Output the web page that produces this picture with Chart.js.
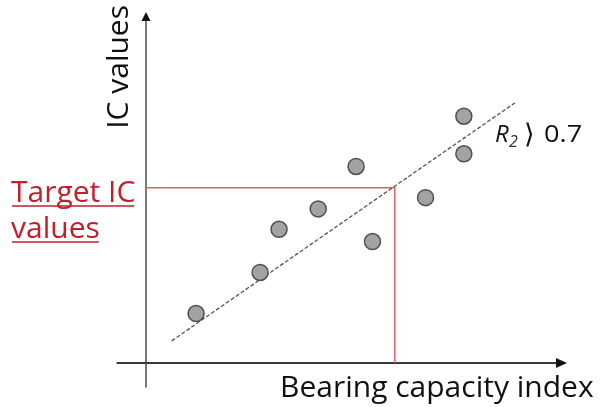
<!DOCTYPE html>
<html>
<head>
<meta charset="utf-8">
<script src="https://cdn.jsdelivr.net/npm/chart.js@4/dist/chart.umd.min.js"></script>
<style>
html,body{margin:0;padding:0;background:#fff;}
#c{display:block;}
</style>
</head>
<body>
<canvas id="c" width="609" height="407"></canvas>
<script>
// Data (arbitrary units: bearing capacity index vs IC values)
const pointX = [1.19, 2.71, 3.16, 4.09, 4.99, 5.38, 6.64, 7.55, 7.55];
const pointY = [1.41, 2.58, 3.81, 4.39, 5.60, 3.46, 4.71, 7.03, 5.96];
const trendX = [0.61, 8.76];
const trendY = [0.63, 7.41];
const targetY = 4.99;
const targetX = 5.91;
const xLabel = "Bearing capacity index";
const yLabel = "IC values";
const targetLabel = ["Target IC", "values"];
const r2Label = "0.7";

const scatterData = pointX.map((x, i) => ({x: x, y: pointY[i]}));
const trendData = trendX.map((x, i) => ({x: x, y: trendY[i]}));
const targetData = [{x: 0, y: targetY}, {x: targetX, y: targetY}, {x: targetX, y: 0}];

const FONT = '"Open Sans", "Noto Sans", sans-serif';

const decor = {
  id: 'decor',
  beforeDatasetsDraw(chart) {
    const ctx = chart.ctx;
    const xs = chart.scales.x, ys = chart.scales.y;
    const x0 = xs.getPixelForValue(0), y0 = ys.getPixelForValue(0);
    const xTop = ys.getPixelForValue(10), xRight = xs.getPixelForValue(10);
    ctx.save();
    // y axis
    ctx.strokeStyle = '#7a7a7a';
    ctx.lineWidth = 2;
    ctx.beginPath();
    ctx.moveTo(x0, ys.getPixelForValue(-0.7));
    ctx.lineTo(x0, xTop + 6);
    ctx.stroke();
    ctx.fillStyle = '#111';
    ctx.beginPath();
    ctx.moveTo(x0, xTop);
    ctx.lineTo(x0 - 4.5, xTop + 9);
    ctx.lineTo(x0 + 4.5, xTop + 9);
    ctx.closePath();
    ctx.fill();
    // x axis
    ctx.strokeStyle = '#3a3a3a';
    ctx.beginPath();
    ctx.moveTo(xs.getPixelForValue(-0.7), y0);
    ctx.lineTo(xRight - 6, y0);
    ctx.stroke();
    ctx.fillStyle = '#111';
    ctx.beginPath();
    ctx.moveTo(xRight, y0);
    ctx.lineTo(xRight - 11, y0 - 5);
    ctx.lineTo(xRight - 11, y0 + 5);
    ctx.closePath();
    ctx.fill();
    ctx.restore();
  },
  afterDraw(chart) {
    const ctx = chart.ctx;
    const xs = chart.scales.x;
    const x0 = xs.getPixelForValue(0);
    ctx.save();
    // x label
    ctx.fillStyle = '#111';
    ctx.font = '30px ' + FONT;
    ctx.textBaseline = 'alphabetic';
    ctx.textAlign = 'left';
    ctx.fillText(xLabel, 280, 397);
    // y label (rotated)
    ctx.save();
    ctx.translate(x0 - 18, 5);
    ctx.rotate(-Math.PI / 2);
    ctx.textAlign = 'right';
    ctx.font = '30px ' + FONT;
    ctx.fillText(yLabel, 0, 0);
    ctx.restore();
    // target label
    ctx.fillStyle = '#c41e28';
    ctx.strokeStyle = '#c41e28';
    ctx.lineWidth = 1.4;
    ctx.font = '30px ' + FONT;
    ctx.textAlign = 'left';
    const base = [202, 238];
    targetLabel.forEach((t, i) => {
      ctx.fillText(t, 11, base[i]);
      const w = ctx.measureText(t).width;
      ctx.beginPath();
      ctx.moveTo(12, base[i] + 4);
      ctx.lineTo(12 + w - 2, base[i] + 4);
      ctx.stroke();
    });
    // R2 label
    ctx.fillStyle = '#111';
    const py = 142;
    ctx.font = 'italic 24px ' + FONT;
    ctx.fillText('R', 495, py);
    ctx.fillStyle = '#333';
    ctx.font = 'italic 16px ' + FONT;
    ctx.fillText('2', 509, py + 5);
    ctx.fillStyle = '#111';
    ctx.font = '27px ' + FONT;
    ctx.fillText('\u27E9', 524, py + 1);
    ctx.font = '23px ' + FONT;
    ctx.save();
    ctx.translate(544, py);
    ctx.scale(1.18, 1);
    ctx.fillText(r2Label, 0, 0);
    ctx.restore();
    ctx.restore();
  }
};

new Chart(document.getElementById('c'), {
  type: 'scatter',
  data: {
    datasets: [
      {
        type: 'line',
        data: targetData,
        borderColor: '#e0606a',
        borderWidth: 1.5,
        pointRadius: 0,
        fill: false,
        tension: 0,
        order: 3
      },
      {
        type: 'line',
        data: trendData,
        borderColor: '#555',
        borderWidth: 1.3,
        borderDash: [4, 2],
        pointRadius: 0,
        fill: false,
        order: 2
      },
      {
        data: scatterData,
        backgroundColor: '#a3a3a3',
        borderColor: '#505050',
        borderWidth: 1.5,
        pointRadius: 8,
        order: 1
      }
    ]
  },
  options: {
    responsive: false,
    animation: false,
    layout: {padding: {left: 146, right: 42, top: 12, bottom: 44}},
    plugins: {legend: {display: false}, tooltip: {enabled: false}},
    scales: {
      x: {type: 'linear', min: 0, max: 10, display: false},
      y: {type: 'linear', min: 0, max: 10, display: false}
    }
  },
  plugins: [decor]
});
</script>
</body>
</html>
